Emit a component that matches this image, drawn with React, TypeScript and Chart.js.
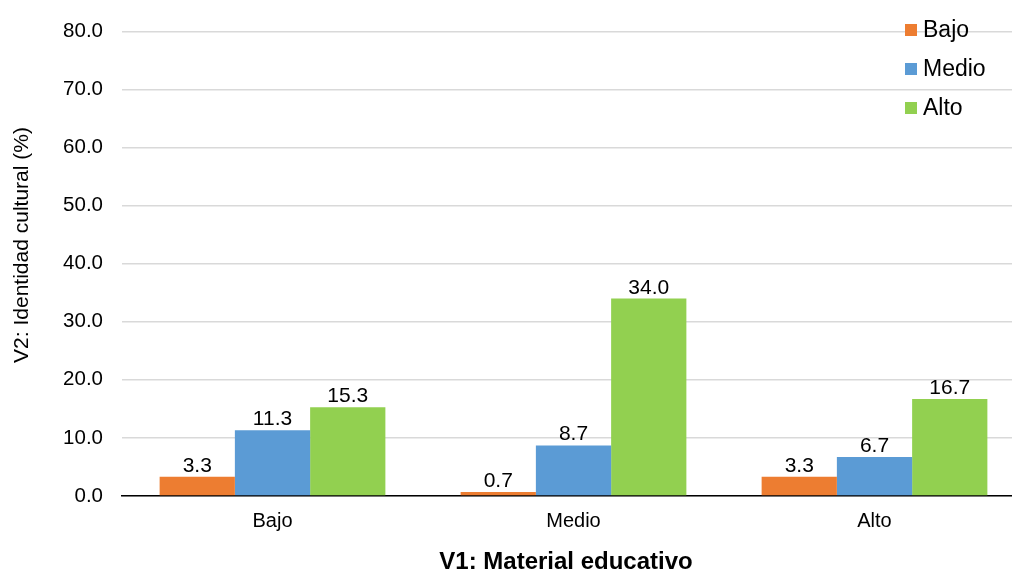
import React, { useEffect, useRef } from "react";
import { Chart, registerables } from "chart.js";

Chart.register(...registerables);

const categories = ["Bajo", "Medio", "Alto"];
const seriesNames = ["Bajo", "Medio", "Alto"];
const bajoValues = [3.3, 0.7, 3.3];
const medioValues = [11.3, 8.7, 6.7];
const altoValues = [15.3, 34.0, 16.7];
const seriesColors = ["#ED7D31", "#5B9BD5", "#92D050"];
const yTicks = [0, 10, 20, 30, 40, 50, 60, 70, 80];
const xTitle = "V1: Material educativo";
const yTitle = "V2: Identidad cultural (%)";

const FONT = "'Liberation Sans', Arial, sans-serif";

// Value labels above each bar
const valueLabels = {
  id: "valueLabels",
  afterDatasetsDraw(chart: any) {
    const ctx = chart.ctx;
    ctx.save();
    ctx.font = `21px ${FONT}`;
    ctx.fillStyle = "#000";
    ctx.textAlign = "center";
    ctx.textBaseline = "alphabetic";
    chart.data.datasets.forEach((ds: any, i: number) => {
      const meta = chart.getDatasetMeta(i);
      meta.data.forEach((bar: any, j: number) => {
        ctx.fillText(Number(ds.data[j]).toFixed(1), bar.x, bar.y - 5);
      });
    });
    ctx.restore();
  },
};

// Axis titles and the vertical legend in the upper right corner
const decorations = {
  id: "decorations",
  afterDraw(chart: any) {
    const ctx = chart.ctx;
    ctx.save();
    ctx.fillStyle = "#000";
    ctx.textAlign = "center";
    ctx.textBaseline = "middle";

    ctx.font = `bold 24px ${FONT}`;
    ctx.fillText(xTitle, 566, 562);

    ctx.save();
    ctx.translate(22, 245);
    ctx.rotate(-Math.PI / 2);
    ctx.font = `21px ${FONT}`;
    ctx.fillText(yTitle, 0, 0);
    ctx.restore();

    ctx.font = `23px ${FONT}`;
    ctx.textAlign = "left";
    chart.data.datasets.forEach((ds: any, i: number) => {
      const cy = 30 + i * 39;
      ctx.fillStyle = ds.backgroundColor;
      ctx.fillRect(905, cy - 6, 12, 12);
      ctx.fillStyle = "#000";
      ctx.fillText(ds.label, 923, cy + 1);
    });
    ctx.restore();
  },
};

export default function App() {
  const canvasRef = useRef<HTMLCanvasElement>(null);

  useEffect(() => {
    document.body.style.margin = "0";
    const values = [bajoValues, medioValues, altoValues];
    const chart = new Chart(canvasRef.current!, {
      type: "bar",
      data: {
        labels: categories,
        datasets: seriesNames.map((name, i) => ({
          label: name,
          data: values[i],
          backgroundColor: seriesColors[i],
          borderWidth: 0,
          categoryPercentage: 0.75,
          barPercentage: 1,
        })),
      },
      options: {
        animation: false,
        responsive: false,
        maintainAspectRatio: false,
        layout: { padding: { top: 29, right: 6, left: 0, bottom: 0 } },
        plugins: {
          legend: { display: false },
          tooltip: { enabled: false },
        },
        scales: {
          x: {
            grid: { display: false, drawTicks: false },
            border: { display: true, color: "#000", width: 1.5 },
            ticks: {
              color: "#000",
              font: { family: FONT, size: 20 },
              padding: 13,
            },
            afterFit: (s: any) => {
              s.height = 75;
            },
          },
          y: {
            min: 0,
            max: 80,
            afterBuildTicks: (s: any) => {
              s.ticks = yTicks.map((v) => ({ value: v }));
            },
            grid: { color: "#D9D9D9", lineWidth: 1.5, drawTicks: false },
            border: { display: false },
            ticks: {
              color: "#000",
              font: { family: FONT, size: 20.5 },
              padding: 19,
              callback: (v: any) => Number(v).toFixed(1),
            },
            afterFit: (s: any) => {
              s.width = 122;
            },
          },
        },
      },
      plugins: [valueLabels, decorations],
    });
    return () => chart.destroy();
  }, []);

  return (
    <div style={{ width: 1012, height: 571, overflow: "hidden", background: "#fff" }}>
      <canvas ref={canvasRef} width={1031} height={571} style={{ display: "block" }} />
    </div>
  );
}
